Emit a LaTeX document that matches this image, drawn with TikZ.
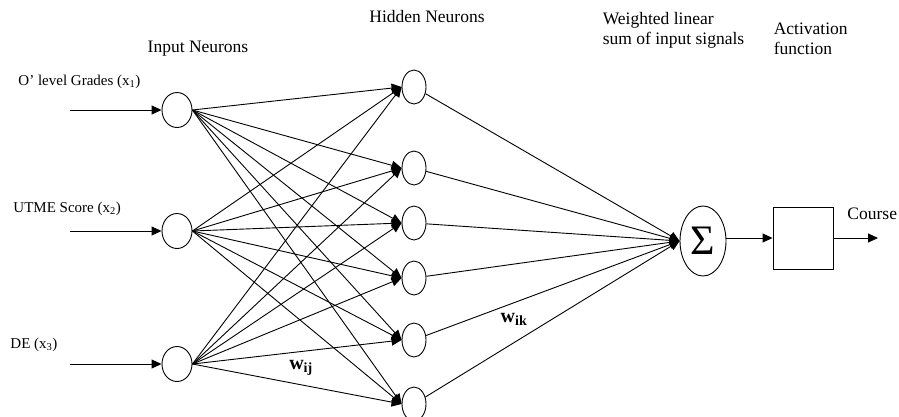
\documentclass[tikz,border=0pt]{standalone}
\usepackage{fontspec}
\setmainfont{Liberation Serif}
\usetikzlibrary{arrows.meta,shapes.geometric}

\tikzset{
  neuron/.style={draw,ellipse,inner sep=0pt,minimum width=30pt,minimum height=35pt},
  hidneuron/.style={neuron,minimum width=24pt,minimum height=34pt},
  link/.style={-{Triangle[length=10pt,width=9pt]}},
  lbl/.style={font=\fontsize{15}{18}\selectfont,anchor=west,inner sep=0pt},
  head/.style={font=\fontsize{17.5}{20}\selectfont},
}

\begin{document}
\begin{tikzpicture}[x=1pt,y=-1pt,line width=0.9pt]
		\useasboundingbox (0,0) rectangle (899,416);
		% input layer
		\node[neuron] (in1) at (177,110) {};
		\node[neuron] (in2) at (177,231) {};
		\node[neuron] (in3) at (177,364) {};
		\coordinate (src1) at (70,110);
		\coordinate (src2) at (70,231);
		\coordinate (src3) at (70,364);
		% hidden layer
		\foreach \j/\y in {1/87,2/168,3/223,4/278,5/340,6/404}
		\node[hidneuron] (hid\j) at (414,\y) {};
		% summing unit and activation box
		\node[neuron,minimum width=46pt,minimum height=70pt,font=\fontsize{42}{42}\selectfont] (sum) at (703,241) {Σ};
		\node[draw,minimum width=60pt,minimum height=62pt,inner sep=0pt] (act) at (803,238) {};
		\coordinate (out) at (878,238);
		\foreach \i in {1,2,3}
		\draw[link] (src\i) -- (in\i);
		\foreach \i in {1,2,3}
		\foreach \j in {1,...,6}
		\draw[link] (in\i.east) -- (hid\j.west);
		\foreach \j in {1,...,6}
		\draw[link] (hid\j) -- (sum.west);
		\draw[link] (sum.east |- act.west) -- (act.west);
		\draw[link] (act.east) -- (out);
		% labels
		\node[head] at (198,49) {Input Neurons};
		\node[head] at (427,17) {Hidden Neurons};
		\node[head,anchor=west,align=left] at (599,30) {Weighted linear\\sum of input signals};
		\node[head,anchor=west,align=left] at (770,39) {Activation\\function};
		\node[head,anchor=west,inner sep=0pt] at (847,214) {Course};
		\node[lbl] at (18,82) {O’ level Grades (x\textsubscript{1})};
		\node[lbl] at (13,209) {UTME Score (x\textsubscript{2})};
		\node[lbl] at (10,345) {DE (x\textsubscript{3})};
		\node[font=\fontsize{20}{20}\selectfont\bfseries] (wij) at (301,368) {w\textsubscript{ij}};
		\node[font=\fontsize{20}{20}\selectfont\bfseries] (wik) at (514,319) {w\textsubscript{ik}};
	    \end{tikzpicture}
\end{document}
